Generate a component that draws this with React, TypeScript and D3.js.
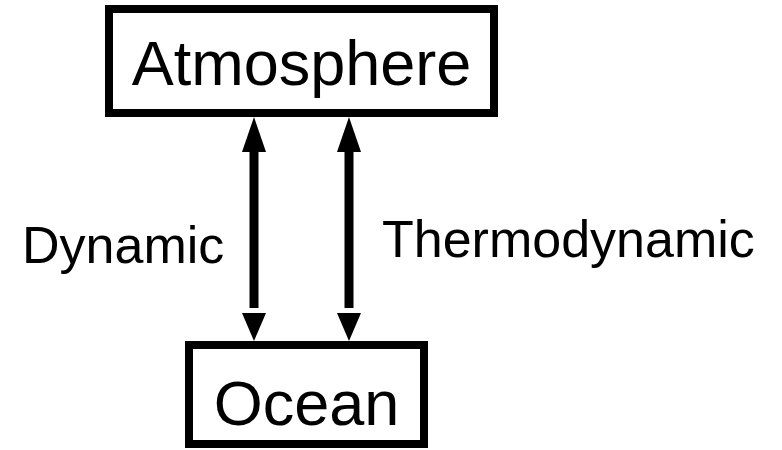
import React from "react";
import * as d3 from "d3";

const W = 782;
const H = 450;

// boxes and links of the diagram
const boxNames = ["Atmosphere", "Ocean"];
const linkNames = ["Dynamic", "Thermodynamic"];

// layout (pixels)
const boxRects = [
  { x0: 109, x1: 494, y0: 9, y1: 113, base: 85, size: 63 },
  { x0: 189, x1: 424, y0: 345, y1: 444, base: 425, size: 63 },
];
const arrowX = [254, 349];
const labelPos = [
  { x: 22, y: 263 },
  { x: 382, y: 257 },
];

const FONT = "'Liberation Sans', Arial, sans-serif";

export default function App() {
  const y = d3.scaleLinear().domain([0, H]).range([0, H]);
  const top = y(117);
  const bottom = y(341);
  const headLen = 35;
  const headHalf = 12;

  return (
    <svg
      width={W}
      height={H}
      style={{ position: "absolute", left: 0, top: 0, background: "white" }}
    >
      {boxNames.map((name, i) => {
        const b = boxRects[i];
        return (
          <g key={name}>
            <rect
              x={b.x0}
              y={b.y0}
              width={b.x1 - b.x0}
              height={b.y1 - b.y0}
              fill="white"
              stroke="black"
              strokeWidth={8}
            />
            <text
              x={(b.x0 + b.x1) / 2}
              y={b.base}
              textAnchor="middle"
              fontFamily={FONT}
              fontSize={b.size}
              fill="black"
            >
              {name}
            </text>
          </g>
        );
      })}
      {arrowX.map((x, i) => (
        <g key={i}>
          <line
            x1={x}
            x2={x}
            y1={top + headLen - 2}
            y2={bottom - headLen + 2}
            stroke="black"
            strokeWidth={9}
          />
          <path
            d={`M${x},${top} L${x - headHalf},${top + headLen} L${x + headHalf},${top + headLen} Z`}
            fill="black"
          />
          <path
            d={`M${x},${bottom} L${x - headHalf},${bottom - headLen + 7} L${x + headHalf},${bottom - headLen + 7} Z`}
            fill="black"
          />
        </g>
      ))}
      {linkNames.map((name, i) => (
        <text
          key={name}
          x={labelPos[i].x}
          y={labelPos[i].y}
          fontFamily={FONT}
          fontSize={52}
          fill="black"
        >
          {name}
        </text>
      ))}
    </svg>
  );
}
